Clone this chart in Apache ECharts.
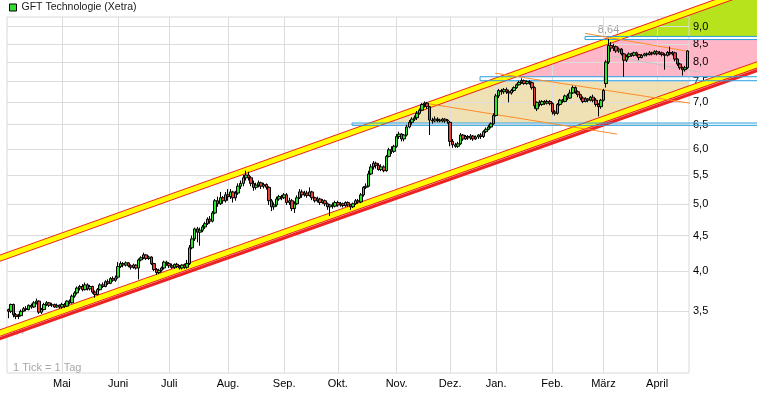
<!DOCTYPE html>
<html>
<head>
<meta charset="utf-8">
<script src="https://cdn.jsdelivr.net/npm/echarts@6.0.0/dist/echarts.min.js"></script>
<style>
  html, body { margin: 0; padding: 0; background: #fff; }
  #chart { width: 757px; height: 397px; }
</style>
</head>
<body>
<div id="chart"></div>
<script>
// Tageskerzen [open, close, low, high], Xetra, April 2013 - April 2014
const apr13 = [
  [3.52,3.50,3.42,3.53],[3.50,3.58,3.48,3.59],[3.58,3.46,3.43,3.59],[3.46,3.44,3.41,3.48],
  [3.44,3.45,3.41,3.47],[3.45,3.50,3.44,3.52],[3.50,3.53,3.49,3.55],[3.53,3.52,3.50,3.56],
  [3.52,3.57,3.51,3.58],[3.57,3.55,3.53,3.59],[3.55,3.60,3.54,3.62],[3.60,3.62,3.58,3.65],
  [3.62,3.49,3.47,3.63],[3.49,3.52,3.47,3.54],[3.52,3.58,3.51,3.60],[3.58,3.60,3.56,3.62],
  [3.60,3.57,3.55,3.61],[3.57,3.58,3.55,3.60],[3.58,3.55,3.54,3.59],[3.55,3.57,3.54,3.59],
  [3.57,3.55,3.53,3.58]
]
const mai13 = [
  [3.55,3.58,3.53,3.60],[3.58,3.56,3.54,3.60],[3.56,3.62,3.55,3.63],[3.62,3.60,3.58,3.64],
  [3.60,3.68,3.59,3.70],[3.68,3.72,3.66,3.74],[3.72,3.78,3.70,3.80],[3.78,3.80,3.75,3.82],
  [3.80,3.76,3.74,3.83],[3.76,3.82,3.75,3.85],[3.82,3.77,3.75,3.84],[3.77,3.80,3.75,3.82],
  [3.80,3.73,3.71,3.81],[3.73,3.70,3.66,3.75],[3.70,3.76,3.69,3.78],[3.76,3.82,3.75,3.84],
  [3.82,3.80,3.78,3.85],[3.80,3.86,3.79,3.88],[3.86,3.84,3.82,3.89],[3.84,3.90,3.83,3.92],
  [3.90,3.88,3.86,3.93],[3.88,3.91,3.86,3.94]
]
const jun13 = [
  [3.92,4.06,3.90,4.12],[4.06,4.10,4.04,4.13],[4.10,4.08,4.05,4.12],[4.08,4.11,4.06,4.13],
  [4.11,4.07,4.05,4.12],[4.07,4.05,4.02,4.09],[4.05,4.08,4.03,4.10],[4.08,4.04,4.02,4.09],
  [4.04,4.15,3.89,4.17],[4.15,4.18,4.13,4.20],[4.18,4.22,4.16,4.25],[4.22,4.17,4.15,4.23],
  [4.17,4.19,4.15,4.21],[4.19,4.10,4.08,4.20],[4.10,4.02,4.00,4.11],[4.02,3.98,3.95,4.04],
  [3.98,4.01,3.96,4.03],[4.01,4.04,3.99,4.06],[4.04,4.12,4.02,4.14],[4.12,4.10,4.07,4.14]
]
const jul13 = [
  [4.10,4.07,4.04,4.12],[4.07,4.05,4.03,4.10],[4.05,4.09,4.03,4.10],[4.09,4.06,4.04,4.11],
  [4.06,4.04,4.02,4.08],[4.04,4.08,4.02,4.09],[4.08,4.05,4.03,4.10],[4.05,4.10,4.03,4.15],
  [4.10,4.32,4.08,4.36],[4.32,4.45,4.30,4.50],[4.45,4.60,4.42,4.62],[4.60,4.55,4.40,4.63],
  [4.55,4.58,4.35,4.62],[4.58,4.63,4.55,4.66],[4.63,4.68,4.60,4.71],[4.68,4.75,4.66,4.78],
  [4.75,4.72,4.68,4.80],[4.72,4.85,4.70,4.88],[4.85,5.05,4.83,5.08],[5.05,5.00,4.95,5.12],
  [5.00,5.10,4.98,5.20],[5.10,5.05,5.00,5.13],[5.05,5.15,5.02,5.20]
]
const aug13 = [
  [5.15,5.12,5.05,5.25],[5.12,5.20,5.08,5.25],[5.20,5.10,5.02,5.22],[5.10,5.18,5.05,5.22],
  [5.18,5.30,5.15,5.35],[5.30,5.35,5.25,5.40],[5.35,5.45,5.30,5.50],[5.45,5.50,5.40,5.58],
  [5.50,5.45,5.40,5.56],[5.45,5.35,5.30,5.48],[5.35,5.28,5.22,5.40],[5.28,5.32,5.24,5.36],
  [5.32,5.36,5.28,5.40],[5.36,5.30,5.25,5.38],[5.30,5.33,5.26,5.36],[5.33,5.28,5.24,5.35],
  [5.28,5.05,4.98,5.30],[5.05,4.95,4.88,5.08],[4.95,4.98,4.90,5.02],[4.98,5.08,4.95,5.12],
  [5.08,5.12,5.05,5.15],[5.12,5.10,5.06,5.15]
]
const sep13 = [
  [5.10,5.15,5.08,5.18],[5.15,5.02,4.98,5.18],[5.02,5.05,4.98,5.10],[5.05,4.92,4.88,5.08],
  [4.92,5.00,4.85,5.04],[5.00,5.10,4.98,5.14],[5.10,5.20,5.08,5.25],[5.20,5.15,5.10,5.24],
  [5.15,5.18,5.12,5.22],[5.18,5.14,5.10,5.22],[5.14,5.20,5.12,5.28],[5.20,5.10,5.06,5.22],
  [5.10,5.05,5.02,5.12],[5.05,5.08,5.02,5.12],[5.08,5.02,4.98,5.10],[5.02,5.05,5.00,5.08],
  [5.05,5.00,4.96,5.07],[5.00,4.95,4.90,5.02],[4.95,4.98,4.80,5.00],[4.98,4.96,4.92,5.02],
  [4.96,5.02,4.94,5.05]
]
const okt13 = [
  [5.02,4.98,4.95,5.05],[4.98,5.00,4.95,5.03],[5.00,4.97,4.94,5.02],[4.97,5.02,4.95,5.04],
  [5.02,4.98,4.95,5.04],[4.98,4.95,4.90,5.00],[4.95,5.00,4.93,5.02],[5.00,5.05,4.98,5.08],
  [5.05,5.03,5.00,5.08],[5.03,5.15,5.01,5.18],[5.15,5.28,5.12,5.30],[5.28,5.30,5.25,5.35],
  [5.30,5.52,5.28,5.58],[5.52,5.65,5.50,5.70],[5.65,5.72,5.60,5.76],[5.72,5.68,5.62,5.75],
  [5.68,5.60,5.58,5.72],[5.60,5.65,5.57,5.70],[5.65,5.58,5.55,5.68],[5.58,5.85,5.56,5.88],
  [5.85,5.98,5.83,6.02],[5.98,5.95,5.90,6.05],[5.95,6.05,5.92,6.08]
]
const nov13 = [
  [6.05,6.25,6.02,6.30],[6.25,6.30,6.20,6.35],[6.30,6.20,6.15,6.32],[6.20,6.28,6.15,6.30],
  [6.28,6.45,6.25,6.50],[6.45,6.55,6.42,6.60],[6.55,6.62,6.50,6.66],[6.62,6.65,6.58,6.70],
  [6.65,6.75,6.60,6.80],[6.75,6.82,6.72,6.86],[6.82,6.95,6.80,6.98],[6.95,6.98,6.88,7.02],
  [6.98,6.90,6.85,7.01],[6.90,6.60,6.28,6.92],[6.60,6.58,6.52,6.65],[6.58,6.62,6.55,6.68],
  [6.62,6.60,6.55,6.66],[6.60,6.58,6.55,6.63],[6.58,6.62,6.55,6.65],[6.62,6.58,6.54,6.64],
  [6.58,6.60,6.52,6.62]
]
const dez13 = [
  [6.55,6.15,6.05,6.58],[6.15,6.08,6.02,6.20],[6.08,6.05,6.02,6.12],[6.05,6.10,6.02,6.14],
  [6.10,6.28,6.08,6.32],[6.28,6.20,6.16,6.30],[6.20,6.25,6.18,6.28],[6.25,6.22,6.18,6.28],
  [6.22,6.26,6.18,6.30],[6.26,6.20,6.16,6.28],[6.20,6.24,6.18,6.27],[6.24,6.28,6.20,6.30],
  [6.28,6.25,6.20,6.32],[6.25,6.35,6.22,6.38],[6.35,6.40,6.32,6.44],[6.40,6.45,6.38,6.50],
  [6.45,6.52,6.42,6.55],[6.52,6.70,6.50,6.75]
]
const jan14 = [
  [6.70,7.15,6.68,7.20],[7.15,7.28,7.10,7.32],[7.28,7.25,7.18,7.32],[7.25,7.30,7.20,7.34],
  [7.30,7.25,7.20,7.35],[7.25,7.22,7.00,7.30],[7.22,7.28,7.18,7.32],[7.28,7.35,7.25,7.38],
  [7.35,7.42,7.32,7.45],[7.42,7.48,7.40,7.52],[7.48,7.52,7.44,7.58],[7.52,7.45,7.42,7.55],
  [7.45,7.50,7.42,7.53],[7.50,7.47,7.42,7.54],[7.47,7.35,7.30,7.50],[7.35,6.92,6.85,7.38],
  [6.85,7.00,6.80,7.02],[7.00,6.95,6.90,7.05],[6.95,7.02,6.92,7.05],[7.02,6.98,6.94,7.05],
  [6.98,7.02,6.95,7.06],[7.02,6.97,6.93,7.05]
]
const feb14 = [
  [6.97,6.78,6.72,7.00],[6.78,6.75,6.70,6.82],[6.75,6.95,6.72,6.98],[6.95,7.05,6.92,7.08],
  [7.05,7.02,6.98,7.08],[7.02,7.15,7.00,7.18],[7.15,7.10,7.05,7.20],[7.10,7.22,7.08,7.30],
  [7.22,7.35,7.20,7.40],[7.35,7.25,7.20,7.38],[7.25,7.18,7.12,7.28],[7.18,7.10,7.05,7.20],
  [7.10,7.02,6.98,7.14],[7.02,7.08,7.00,7.12],[7.08,7.05,7.00,7.10],[7.05,7.12,7.02,7.15],
  [7.12,7.05,7.00,7.18],[7.05,6.95,6.90,7.10],[6.95,6.90,6.68,6.98],[6.90,7.05,6.85,7.08]
]
const mrz14 = [
  [7.05,7.28,7.02,7.32],[7.45,8.00,7.35,8.05],[8.00,8.45,7.95,8.64],[8.45,8.38,8.28,8.55],
  [8.38,8.42,8.30,8.50],[8.42,8.30,8.25,8.45],[8.30,8.35,8.25,8.40],[8.35,8.22,8.18,8.38],
  [8.22,8.05,7.62,8.25],[8.05,8.15,8.00,8.20],[8.15,8.22,8.10,8.26],[8.22,8.18,8.14,8.25],
  [8.18,8.25,8.15,8.28],[8.25,8.20,8.15,8.28],[8.20,8.12,8.05,8.22],[8.12,8.18,8.10,8.22],
  [8.18,8.22,8.15,8.25],[8.22,8.20,8.15,8.26],[8.20,8.25,8.18,8.30],[8.25,8.22,8.18,8.28],
  [8.22,8.28,8.20,8.32]
]
const apr14 = [
  [8.28,8.22,8.18,8.32],[8.22,8.25,8.20,8.30],[8.25,8.20,8.15,8.28],[8.20,8.18,7.80,8.24],
  [8.18,8.26,8.15,8.30],[8.26,8.22,8.18,8.42],[8.22,8.25,8.18,8.30],[8.25,8.08,8.02,8.28],
  [8.08,7.95,7.90,8.10],[7.95,7.85,7.80,7.98],[7.85,7.80,7.65,7.88],[7.80,7.85,7.75,7.90],
  [7.85,8.30,7.82,8.32]
]

const ohlc = [].concat(apr13, mai13, jun13, jul13, aug13, sep13, okt13, nov13, dez13, jan14, feb14, mrz14, apr14)
const days = ohlc.map((_, i) => String(i))

// Achsen
const monthNames = ['Mai', 'Juni', 'Juli', 'Aug.', 'Sep.', 'Okt.', 'Nov.', 'Dez.', 'Jan.', 'Feb.', 'März', 'April']
const monthStart = [21, 43, 63, 86, 108, 129, 152, 173, 191, 213, 233, 254]
const yTicks = [3.5, 4.0, 4.5, 5.0, 5.5, 6.0, 6.5, 7.0, 7.5, 8.0, 8.5, 9.0]
const yMin = 2.852
const yMax = 9.29

// Zeichnungen: [Tag-Index, Kurs]
const channelTop = [[-6, 4.14], [300, 10.45]]
const channelBottom = [[-6, 3.23], [300, 8.09]]
const supportLine = [[-6, 3.17], [300, 7.94]]
const zoneStart = [134.6, 184.7, 225.8]
const zoneLow = [6.485, 7.52, 8.62]
const zoneHigh = [6.535, 7.62, 8.71]
const trendOrange = [
  [[163.2, 6.98], [238.3, 6.30]],
  [[190.6, 7.71], [266.9, 6.98]],
  [[225.8, 8.80], [266.9, 8.28]]
]
const trendGray = [[236.4, 8.16], [270.8, 7.74]]
const highMark = [235, 8.64]
const startMark = [3.4, 3.28, 3.4]
const farIdx = 300

const FONT = '"Liberation Sans", Arial, sans-serif'
const fmtDe = (v, d) => v.toFixed(d).replace('.', ',')

const lineFn = (p, q) => ({
  xAtY: y => p[0] + (y - p[1]) * (q[0] - p[0]) / (q[1] - p[1]),
  yAtX: x => p[1] + (x - p[0]) * (q[1] - p[1]) / (q[0] - p[0])
})

const helpers = (api) => {
  const P = d => api.coord([d[0], Math.log(d[1])])
  const yOf = v => api.coord([0, Math.log(v)])[1]
  const xOf = i => api.coord([i, 1.5])[0]
  return { P, yOf, xOf }
}

const renderFills = (params, api) => {
  const { P, yOf, xOf } = helpers(api)
  const top = lineFn(P(channelTop[0]), P(channelTop[1]))
  const bot = lineFn(P(channelBottom[0]), P(channelBottom[1]))
  const xPlot = xOf(ohlc.length - 0.5)
  const xFar = xOf(farIdx)

  let a = yOf(zoneHigh[0]), b = yOf(zoneLow[1])
  const beige = [[top.xAtY(a), a], [top.xAtY(b), b], [xPlot, b], [xPlot, bot.yAtX(xPlot)], [bot.xAtY(a), a]]
  a = yOf(zoneHigh[1]); b = yOf(zoneLow[2])
  const pink = [[top.xAtY(a), a], [top.xAtY(b), b], [xFar, b], [xFar, bot.yAtX(xFar)], [bot.xAtY(a), a]]
  a = yOf(zoneHigh[2])
  const green = [[top.xAtY(a), a], [xFar, top.yAtX(xFar)], [xFar, a]]

  const hi = P(highMark)
  const st = P(startMark)
  return {
    type: 'group',
    children: [
      { type: 'polygon', shape: { points: beige }, style: { fill: '#f0e1b4' } },
      { type: 'polygon', shape: { points: pink }, style: { fill: '#ffb7c8' } },
      { type: 'polygon', shape: { points: green }, style: { fill: '#b6e31c' } },
      { type: 'text', x: hi[0], y: hi[1] - 3, style: { text: fmtDe(highMark[1], 2), fill: '#a0a0a0', font: '11px ' + FONT, align: 'center', verticalAlign: 'bottom' } },
      { type: 'text', x: st[0], y: st[1], style: { text: fmtDe(startMark[2], 1), fill: '#a8a8a8', font: '11px ' + FONT, align: 'center', verticalAlign: 'middle' } }
    ]
  }
}

const renderLines = (params, api) => {
  const { P, yOf, xOf } = helpers(api)
  const xFar = xOf(farIdx)
  const seg = (d, color, width) => {
    const p = P(d[0]), q = P(d[1])
    return { type: 'line', shape: { x1: p[0], y1: p[1], x2: q[0], y2: q[1] }, style: { stroke: color, lineWidth: width } }
  }
  const children = [
    seg(channelTop, '#ee2222', 7), seg(channelTop, '#ffff00', 5),
    seg(channelBottom, '#ee2222', 7), seg(channelBottom, '#ffff00', 5),
    seg(supportLine, '#ee2222', 3)
  ]
  zoneStart.forEach((s, k) => {
    const x = xOf(s), y1 = yOf(zoneHigh[k]), y2 = yOf(zoneLow[k])
    children.push({ type: 'rect', shape: { x: x, y: y1, width: xFar - x, height: y2 - y1 }, style: { fill: null, stroke: '#2a9fe0', lineWidth: 1 } })
  })
  trendOrange.forEach(t => children.push(seg(t, '#ff8c28', 1)))
  children.push(seg(trendGray, '#c4c4c4', 1))
  return { type: 'group', children: children }
}

const chart = echarts.init(document.getElementById('chart'))
const lnTicks = yTicks.map(Math.log)

const option = {
  animation: false,
  backgroundColor: '#fff',
  legend: {
    data: [{ name: 'GFT Technologie (Xetra)', icon: 'rect' }],
    left: 9, top: 1, padding: 0,
    itemWidth: 7, itemHeight: 7,
    selectedMode: false,
    itemStyle: { color: '#33dd33', borderColor: '#000', borderWidth: 1 },
    textStyle: { color: '#1a1a1a', fontSize: 10.5, fontFamily: FONT, lineHeight: 13 }
  },
  graphic: [
    { type: 'text', left: 13, top: 362, style: { text: '1 Tick = 1 Tag', fill: '#a8a8a8', font: '11px ' + FONT } }
  ],
  grid: { left: 7, right: 68, top: 17, bottom: 24, show: true, borderColor: '#d8d8d8', borderWidth: 1 },
  xAxis: [
    { type: 'category', data: days, show: false, boundaryGap: true },
    {
      type: 'value', min: -0.5, max: ohlc.length - 0.5, position: 'bottom',
      axisLine: { show: false },
      axisTick: { show: false, customValues: monthStart },
      axisLabel: {
        customValues: monthStart,
        formatter: v => monthNames[monthStart.indexOf(v)],
        color: '#000', fontSize: 11, fontFamily: FONT, margin: 5
      },
      splitLine: { show: true, lineStyle: { color: '#dcdcdc' } }
    }
  ],
  yAxis: {
    type: 'value', position: 'right', min: Math.log(yMin), max: Math.log(yMax),
    axisLine: { show: false },
    axisTick: { show: false, customValues: lnTicks },
    axisLabel: {
      customValues: lnTicks,
      formatter: v => fmtDe(Math.exp(v), 1),
      color: '#000', fontSize: 11, fontFamily: FONT, margin: 4
    },
    splitLine: { show: true, lineStyle: { color: '#dcdcdc' } }
  },
  series: [
    {
      type: 'custom', name: 'Zonen', xAxisIndex: 1, yAxisIndex: 0, z: -1, silent: true, clip: false,
      data: [[0, 1.5]], renderItem: renderFills
    },
    {
      type: 'custom', name: 'Linien', xAxisIndex: 1, yAxisIndex: 0, z: 1, silent: true, clip: false,
      data: [[0, 1.5]], renderItem: renderLines
    },
    {
      type: 'candlestick', name: 'GFT Technologie (Xetra)', xAxisIndex: 0, yAxisIndex: 0, z: 3,
      barWidth: 3,
      data: ohlc.map(r => r.map(Math.log)),
      itemStyle: { color: '#2ee62e', color0: '#e8403a', borderColor: '#000', borderColor0: '#000', borderWidth: 1 }
    }
  ]
}

chart.setOption(option)
</script>
</body>
</html>
